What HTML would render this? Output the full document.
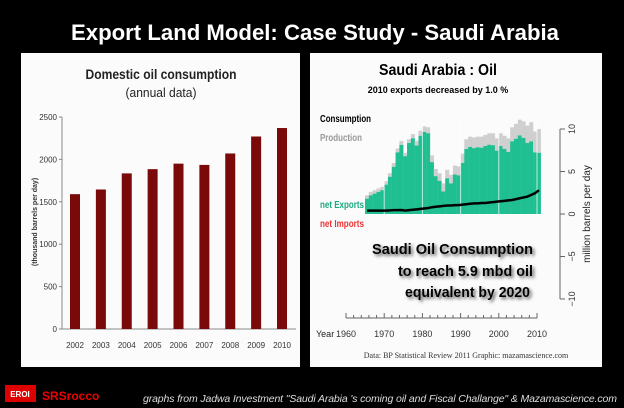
<!DOCTYPE html>
<html><head><meta charset="utf-8"><style>
body{margin:0;background:#000;width:624px;height:408px;overflow:hidden;font-family:"Liberation Sans",sans-serif}
svg{display:block}
</style></head><body>
<svg width="624" height="408">
<defs><filter id="sh" x="-10%" y="-20%" width="130%" height="160%"><feDropShadow dx="2" dy="2" stdDeviation="1.5" flood-color="#555"/></filter></defs>
<rect width="624" height="408" fill="#000"/>
<text x="315" y="40" text-anchor="middle" fill="#fff" font-weight="bold" font-size="22" textLength="488" lengthAdjust="spacingAndGlyphs">Export Land Model:  Case Study - Saudi Arabia</text>

<g id="left">
<rect x="21" y="53" width="279" height="314" fill="#fbfbfb"/>
<text x="161" y="79" text-anchor="middle" font-weight="bold" font-size="14" fill="#222" textLength="151" lengthAdjust="spacingAndGlyphs">Domestic oil consumption</text>
<text x="161" y="97" text-anchor="middle" font-size="13" fill="#222" textLength="71" lengthAdjust="spacingAndGlyphs">(annual data)</text>
<text transform="translate(37,222) rotate(-90)" text-anchor="middle" font-size="7" font-weight="bold" fill="#333">(thousand barrels per day)</text>
</g>

<g id="right">
<rect x="310" y="53" width="292" height="314" fill="#fbfbfb"/>
<text x="438" y="75" text-anchor="middle" font-weight="bold" font-size="16" fill="#000" textLength="118" lengthAdjust="spacingAndGlyphs">Saudi Arabia :  Oil</text>
<text x="438" y="93" text-anchor="middle" font-weight="bold" font-size="9" fill="#000">2010 exports decreased by 1.0 %</text>
<text x="320" y="122" font-weight="bold" font-size="10" fill="#000" textLength="51" lengthAdjust="spacingAndGlyphs">Consumption</text>
<text x="320" y="141" font-weight="bold" font-size="10" fill="#999" textLength="42" lengthAdjust="spacingAndGlyphs">Production</text>
<text x="320" y="208" font-weight="bold" font-size="10" fill="#1aaa80" textLength="44" lengthAdjust="spacingAndGlyphs">net Exports</text>
<text x="320" y="227" font-weight="bold" font-size="10" fill="#e33" textLength="44" lengthAdjust="spacingAndGlyphs">net Imports</text>
<text transform="translate(590,214) rotate(-90)" text-anchor="middle" font-size="10" fill="#222">million barrels per day</text>
<text x="316" y="337" font-size="9" fill="#222">Year</text>
<text x="466" y="358" text-anchor="middle" font-family="Liberation Serif" font-size="8" fill="#333">Data: BP Statistical Review 2011    Graphic: mazamascience.com</text>
</g>

<g filter="url(#sh)" font-weight="bold" font-size="15" fill="#000">
<text x="372" y="254" textLength="161" lengthAdjust="spacingAndGlyphs">Saudi Oil Consumption</text>
<text x="398" y="276" textLength="135" lengthAdjust="spacingAndGlyphs">to reach 5.9 mbd oil</text>
<text x="405" y="297" textLength="125" lengthAdjust="spacingAndGlyphs">equivalent by 2020</text>
</g>

<rect x="5" y="385" width="31" height="17" fill="#d00"/>
<text x="20" y="397" text-anchor="middle" font-size="8" font-weight="bold" fill="#fff">EROI</text>
<text x="42" y="400" font-weight="bold" font-size="12" fill="#e00">SRSrocco</text>
<text x="143" y="402" font-style="italic" font-size="10.5" fill="#ddd" textLength="474">graphs from Jadwa Investment "Saudi Arabia 's coming oil and Fiscal Challange" &amp; Mazamascience.com</text>
</svg>
<script>
const ns="http://www.w3.org/2000/svg";
const svg=document.querySelector('svg');
function mk(t,a,p){const e=document.createElementNS(ns,t);for(const k in a)e.setAttribute(k,a[k]);(p||svg).appendChild(e);return e;}
// left chart data
const years=["2002","2003","2004","2005","2006","2007","2008","2009","2010"];
const consumption=[1590,1645,1835,1885,1950,1935,2070,2270,2370];
const yTicks=[0,500,1000,1500,2000,2500];
// right chart data
const rYears=[1965,1966,1967,1968,1969,1970,1971,1972,1973,1974,1975,1976,1977,1978,1979,1980,1981,1982,1983,1984,1985,1986,1987,1988,1989,1990,1991,1992,1993,1994,1995,1996,1997,1998,1999,2000,2001,2002,2003,2004,2005,2006,2007,2008,2009,2010];
const production=[2.2,2.6,2.8,3.0,3.2,3.85,4.8,6.0,7.7,8.6,7.2,8.8,9.4,8.6,9.8,10.3,10.2,6.9,5.3,4.8,3.6,5.2,4.6,5.7,5.6,7.1,8.8,9.1,9.0,9.1,9.1,9.3,9.5,9.5,8.9,9.5,9.2,8.9,10.2,10.6,11.1,10.9,10.4,10.8,9.7,10.0];
const rConsumption=[0.4,0.4,0.4,0.4,0.4,0.4,0.42,0.45,0.45,0.47,0.4,0.45,0.5,0.55,0.6,0.65,0.7,0.8,0.85,0.9,0.95,1.0,1.0,1.05,1.05,1.1,1.15,1.2,1.25,1.25,1.3,1.3,1.35,1.4,1.45,1.5,1.55,1.6,1.65,1.75,1.85,1.95,2.05,2.25,2.45,2.8];
const rTicks=[-10,-5,0,5,10];
const decadeTicks=[1960,1970,1980,1990,2000,2010];

const L=document.getElementById('left');
const ly=v=>329-v*(212/2500);
const lx=i=>75+i*(207/8);
mk('line',{x1:62,y1:117,x2:62,y2:329,stroke:'#888'},L);
mk('line',{x1:62,y1:329,x2:296,y2:329,stroke:'#888'},L);
yTicks.forEach(t=>{
 mk('line',{x1:59,y1:ly(t),x2:62,y2:ly(t),stroke:'#888'},L);
 const e=mk('text',{x:57,y:ly(t)+3,'text-anchor':'end','font-size':8,fill:'#333'},L);e.textContent=t;
 
 
});
years.forEach((y,i)=>{
 const r=mk('rect',{x:lx(i)-5,y:ly(consumption[i]),width:10,height:329-ly(consumption[i]),fill:'#7a0a0a'},L);
 
 
 const e=mk('text',{x:lx(i),y:348,'text-anchor':'middle','font-size':8,fill:'#333'},L);e.textContent=y;
 
 
});

const R=document.getElementById('right');
const rx=y=>346+(y-1960)*(191/50);
const ry=v=>214-v*8.5;
const w=191/50;
rYears.forEach((yr,i)=>{
 const ex=production[i]-rConsumption[i];
 const g=mk('rect',{x:rx(yr)-0.1,y:ry(production[i]),width:w+0.2,height:ry(ex)-ry(production[i]),fill:'#cfcfcf'},R);
 
 
 const c=mk('rect',{x:rx(yr)-0.1,y:ry(ex),width:w+0.2,height:ry(0)-ry(ex),fill:'#1fbf92'},R);
 
 
});
[1970,1980,1990,2000,2010].forEach(d=>{mk('line',{x1:rx(d),y1:ry(11.5),x2:rx(d),y2:ry(0),stroke:'#fff','stroke-width':1,opacity:0.7},R);});
let pts=rYears.map((yr,i)=>rx(yr+0.5)+','+ry(rConsumption[i])).join(' ');
const pl=mk('polyline',{points:pts,fill:'none',stroke:'#000','stroke-width':2.5},R);


mk('line',{x1:560,y1:ry(10),x2:560,y2:ry(-10),stroke:'#666'},R);
rTicks.forEach(t=>{
 mk('line',{x1:560,y1:ry(t),x2:565,y2:ry(t),stroke:'#666'},R);
 const e=mk('text',{transform:`translate(575,${ry(t)}) rotate(-90)`,'text-anchor':'middle','font-size':9,fill:'#333'},R);e.textContent=t<0?'\u2212'+(-t):t;
 
 
});
mk('line',{x1:rx(1960),y1:318,x2:rx(2010),y2:318,stroke:'#666'},R);
for(let y=1960;y<=2010;y+=2){mk('line',{x1:rx(y),y1:318,x2:rx(y),y2:y%10==0?313:315,stroke:'#666'},R);}
decadeTicks.forEach(d=>{
 const e=mk('text',{x:rx(d),y:337,'text-anchor':'middle','font-size':9,fill:'#333'},R);e.textContent=d;
 
 
});
</script>
</body></html>
